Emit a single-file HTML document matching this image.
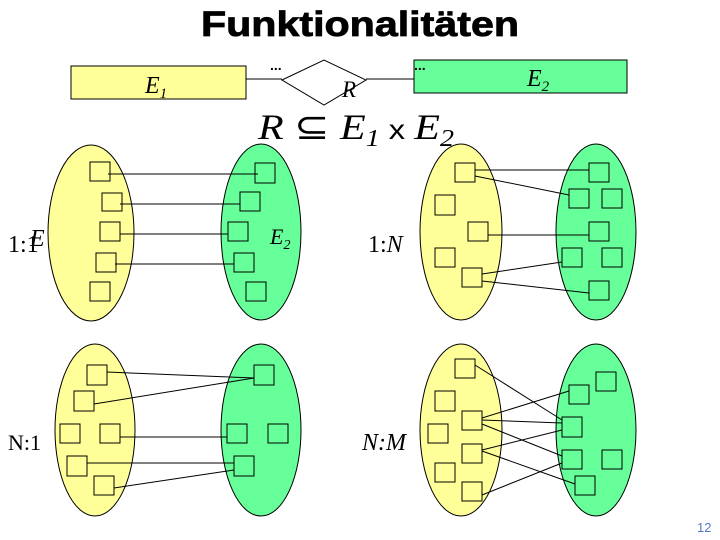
<!DOCTYPE html>
<html><head><meta charset="utf-8"><style>body{margin:0;background:#fff}svg{display:block}</style></head><body>
<svg width="720" height="540" viewBox="0 0 720 540" xmlns="http://www.w3.org/2000/svg" font-family="Liberation Serif, serif">
<text x="360" y="36" text-anchor="middle" font-family="Liberation Sans, sans-serif" font-weight="bold" font-size="35" textLength="318" lengthAdjust="spacingAndGlyphs" stroke="#000" stroke-width="0.8">Funktionalitäten</text>
<g stroke="#000" stroke-width="1">
<rect x="71" y="66" width="175" height="33" fill="#ffff99"/>
<rect x="414" y="60" width="213" height="33" fill="#66ff99"/>
<line x1="246" y1="79" x2="282" y2="79"/><line x1="366" y1="79" x2="414" y2="79"/>
<polygon points="282,80 324,60 366,80 324,105" fill="#fff"/>
</g>
<text x="270" y="70" font-family="Liberation Sans, sans-serif" font-weight="bold" font-size="14">...</text>
<text x="414" y="70" font-family="Liberation Sans, sans-serif" font-weight="bold" font-size="14">...</text>
<text x="145" y="93" font-style="italic" font-size="24">E<tspan font-size="15" dy="5">1</tspan></text>
<text x="342" y="97" font-style="italic" font-size="23">R</text>
<text x="527" y="86" font-style="italic" font-size="24">E<tspan font-size="15" dy="5">2</tspan></text>
<text x="258" y="139" font-size="36" textLength="196" lengthAdjust="spacingAndGlyphs"><tspan font-style="italic">R</tspan> ⊆ <tspan font-style="italic">E</tspan><tspan font-style="italic" font-size="24" dy="7">1</tspan><tspan dy="-7" font-family="Liberation Sans, sans-serif" font-size="28"> x </tspan><tspan font-style="italic">E</tspan><tspan font-style="italic" font-size="24" dy="7">2</tspan></text>
<text x="30" y="246" font-style="italic" font-size="24">E</text>
<text x="8" y="252" font-size="24">1:1</text>
<text x="368" y="252" font-size="24">1:<tspan font-style="italic">N</tspan></text>
<text x="8" y="450" font-size="22">N:1</text>
<text x="362" y="450" font-style="italic" font-size="24">N:M</text>
<g stroke="#000" stroke-width="1">
<ellipse cx="91" cy="233" rx="43" ry="88" fill="#ffff99"/>
<ellipse cx="261" cy="232" rx="40" ry="88" fill="#66ff99"/>
<ellipse cx="461" cy="232" rx="41" ry="88" fill="#ffff99"/>
<ellipse cx="596" cy="232" rx="40" ry="88" fill="#66ff99"/>
<ellipse cx="95" cy="430" rx="40" ry="86" fill="#ffff99"/>
<ellipse cx="261" cy="430" rx="40" ry="86" fill="#66ff99"/>
<ellipse cx="461" cy="430" rx="41" ry="86" fill="#ffff99"/>
<ellipse cx="596" cy="430" rx="40" ry="86" fill="#66ff99"/>
</g>
<text x="270" y="244" font-style="italic" font-size="22">E<tspan font-size="14" dy="5">2</tspan></text>
<g stroke="#000" stroke-width="1" fill="none">
<rect x="90" y="162" width="20" height="19"/><rect x="102" y="193" width="20" height="18"/><rect x="100" y="222" width="20" height="19"/><rect x="96" y="253" width="20" height="19"/><rect x="90" y="282" width="20" height="19"/>
<rect x="255" y="163" width="20" height="20"/><rect x="240" y="192" width="20" height="19"/><rect x="228" y="222" width="20" height="19"/><rect x="234" y="253" width="20" height="19"/><rect x="246" y="282" width="20" height="19"/>
<line x1="108" y1="174" x2="258" y2="174"/><line x1="120" y1="204" x2="240" y2="204"/><line x1="120" y1="234" x2="228" y2="234"/><line x1="115" y1="264" x2="234" y2="264"/>
<rect x="455" y="163" width="20" height="19"/><rect x="435" y="195" width="20" height="20"/><rect x="468" y="222" width="20" height="19"/><rect x="435" y="248" width="20" height="19"/><rect x="462" y="268" width="20" height="19"/>
<rect x="589" y="163" width="20" height="19"/><rect x="569" y="189" width="20" height="19"/><rect x="602" y="189" width="20" height="19"/><rect x="589" y="222" width="20" height="19"/><rect x="562" y="248" width="20" height="19"/><rect x="602" y="248" width="20" height="19"/><rect x="589" y="281" width="20" height="19"/>
<line x1="475" y1="170" x2="589" y2="170"/><line x1="475" y1="176" x2="569" y2="195"/><line x1="488" y1="235" x2="589" y2="235"/><line x1="482" y1="274" x2="562" y2="262"/><line x1="482" y1="281" x2="589" y2="293"/>
<rect x="87" y="365" width="20" height="20"/><rect x="74" y="391" width="20" height="20"/><rect x="60" y="424" width="20" height="19"/><rect x="100" y="424" width="20" height="19"/><rect x="67" y="456" width="20" height="20"/><rect x="94" y="476" width="20" height="19"/>
<rect x="254" y="365" width="20" height="20"/><rect x="227" y="424" width="20" height="19"/><rect x="268" y="424" width="20" height="19"/><rect x="234" y="456" width="20" height="20"/>
<line x1="107" y1="372" x2="254" y2="378"/><line x1="94" y1="404" x2="254" y2="378"/><line x1="120" y1="437" x2="227" y2="437"/><line x1="87" y1="463" x2="234" y2="463"/><line x1="114" y1="488" x2="234" y2="470"/>
<rect x="455" y="359" width="20" height="19"/><rect x="435" y="391" width="20" height="20"/><rect x="462" y="411" width="20" height="19"/><rect x="428" y="424" width="20" height="19"/><rect x="462" y="444" width="20" height="19"/><rect x="435" y="463" width="20" height="19"/><rect x="462" y="482" width="20" height="19"/>
<rect x="569" y="385" width="20" height="19"/><rect x="596" y="372" width="20" height="19"/><rect x="562" y="417" width="20" height="20"/><rect x="562" y="450" width="20" height="19"/><rect x="602" y="450" width="20" height="19"/><rect x="575" y="476" width="20" height="19"/>
<line x1="475" y1="365" x2="562" y2="420"/><line x1="482" y1="418" x2="569" y2="391"/><line x1="482" y1="420" x2="562" y2="423"/><line x1="482" y1="424" x2="562" y2="456"/><line x1="482" y1="450" x2="562" y2="430"/><line x1="482" y1="451" x2="575" y2="484"/><line x1="482" y1="495" x2="562" y2="463"/>
</g>
<text x="697" y="532" font-family="Liberation Sans, sans-serif" font-size="13" fill="#5577cc">12</text>
</svg>
</body></html>
